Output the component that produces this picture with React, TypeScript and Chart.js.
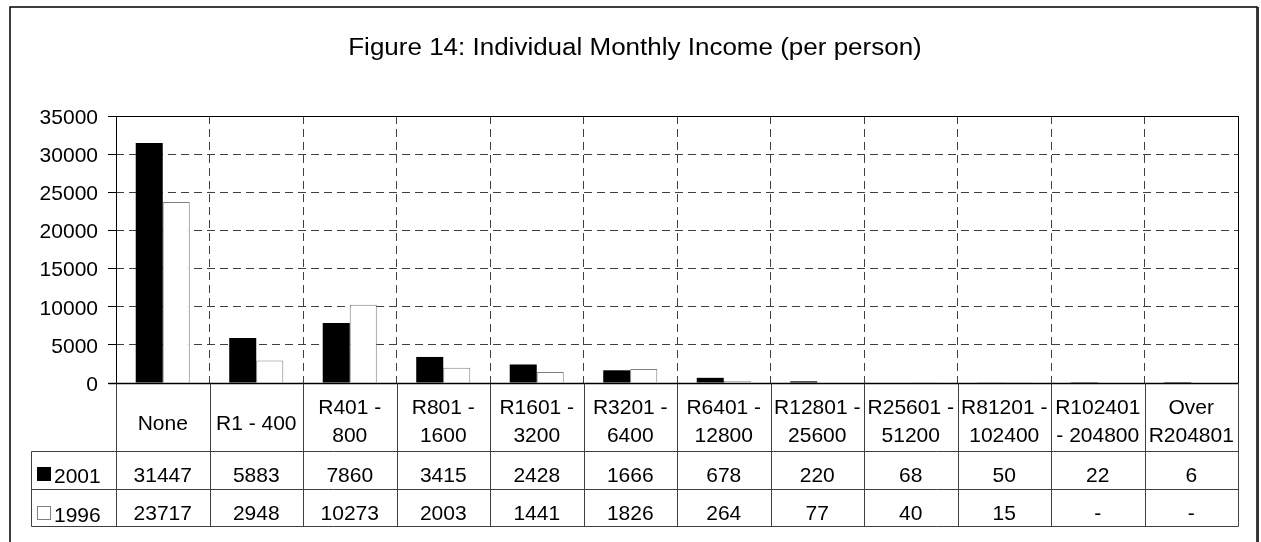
import { useEffect, useRef } from "react";
import { Chart, registerables } from "chart.js";

Chart.register(...registerables);

const TITLE = "Figure 14: Individual Monthly Income (per person)";

const categories: string[][] = [
  ["None"],
  ["R1 - 400"],
  ["R401 -", "800"],
  ["R801 -", "1600"],
  ["R1601 -", "3200"],
  ["R3201 -", "6400"],
  ["R6401 -", "12800"],
  ["R12801 -", "25600"],
  ["R25601 -", "51200"],
  ["R81201 -", "102400"],
  ["R102401", "- 204800"],
  ["Over", "R204801"],
];

const seriesNames = ["2001", "1996"];
const values2001: (number | null)[] = [31447, 5883, 7860, 3415, 2428, 1666, 678, 220, 68, 50, 22, 6];
const values1996: (number | null)[] = [23717, 2948, 10273, 2003, 1441, 1826, 264, 77, 40, 15, null, null];

const Y_MIN = 0;
const Y_MAX = 35000;
const Y_STEP = 5000;

const FONT = "'Liberation Sans', Arial, Helvetica, sans-serif";

export default function App() {
  const ref = useRef<HTMLCanvasElement | null>(null);

  useEffect(() => {
    if (!ref.current) return;

    const framePlugin = {
      id: "frameAndTable",
      beforeDraw(chart: any) {
        const ctx = chart.ctx as CanvasRenderingContext2D;
        ctx.save();
        ctx.fillStyle = "#ffffff";
        ctx.fillRect(0, 0, chart.width, chart.height);
        ctx.restore();
      },
      afterDraw(chart: any) {
        const ctx = chart.ctx as CanvasRenderingContext2D;
        const area = chart.chartArea;
        const xs = chart.scales.x;
        const left = Math.round(area.left) + 0.5;
        const right = Math.round(area.right) + 0.5;
        const top = Math.round(area.top) + 0.5;
        const bottom = Math.round(area.bottom) + 0.5;
        const n = categories.length;
        const cw = (area.right - area.left) / n;

        ctx.save();
        // outer frame
        ctx.strokeStyle = "#000";
        ctx.lineWidth = 1.5;
        ctx.strokeRect(10, 7, 1247, 600);
        ctx.strokeStyle = "#333";
        ctx.lineWidth = 2;
        ctx.beginPath();
        ctx.moveTo(1258, 7);
        ctx.lineTo(1258, 600);
        ctx.stroke();

        // title (glyphs slightly widened, as in the reference)
        ctx.save();
        ctx.fillStyle = "#000";
        ctx.font = `23px ${FONT}`;
        ctx.textAlign = "center";
        ctx.textBaseline = "alphabetic";
        ctx.translate(635, 54.5);
        ctx.scale(1.13, 1);
        ctx.fillText(TITLE, 0, 0);
        ctx.restore();

        // plot area border
        ctx.strokeStyle = "#000";
        ctx.lineWidth = 1;
        ctx.beginPath();
        ctx.moveTo(left, bottom);
        ctx.lineTo(left, top);
        ctx.lineTo(right, top);
        ctx.lineTo(right, bottom);
        ctx.stroke();
        ctx.lineWidth = 1.5;
        ctx.beginPath();
        ctx.moveTo(left - 8, bottom);
        ctx.lineTo(right, bottom);
        ctx.stroke();

        // table geometry
        const hdrBottom = bottom + 68;
        const row1Bottom = bottom + 106;
        const row2Bottom = bottom + 143;
        const tableLeft = 31.5;

        ctx.strokeStyle = "#404040";
        ctx.lineWidth = 1;
        ctx.beginPath();
        for (let i = 0; i <= n; i++) {
          const x = Math.round(area.left + i * cw) + 0.5;
          ctx.moveTo(x, bottom);
          ctx.lineTo(x, row2Bottom);
        }
        [hdrBottom, row1Bottom, row2Bottom].forEach((y) => {
          ctx.moveTo(tableLeft, y);
          ctx.lineTo(right, y);
        });
        ctx.moveTo(tableLeft, hdrBottom);
        ctx.lineTo(tableLeft, row2Bottom);
        ctx.stroke();

        // header labels
        ctx.fillStyle = "#000";
        ctx.font = `21px ${FONT}`;
        ctx.textAlign = "center";
        ctx.textBaseline = "alphabetic";
        categories.forEach((lines, i) => {
          const cx = xs.getPixelForValue(i);
          if (lines.length === 1) {
            ctx.fillText(lines[0], cx, bottom + 46);
          } else {
            ctx.fillText(lines[0], cx, bottom + 30.5);
            ctx.fillText(lines[1], cx, bottom + 58.5);
          }
        });

        // data rows
        const rows = [values2001, values1996];
        const rowBase = [bottom + 98.8, bottom + 136.7];
        const keyTop = [bottom + 83.5, bottom + 122.5];
        const labelBase = [bottom + 99.8, bottom + 138.3];
        rows.forEach((vals, r) => {
          if (r === 0) {
            ctx.fillStyle = "#000";
            ctx.fillRect(37, keyTop[r], 14, 14);
          } else {
            ctx.fillStyle = "#fff";
            ctx.fillRect(37, keyTop[r], 14, 14);
            ctx.strokeStyle = "#808080";
            ctx.lineWidth = 1;
            ctx.strokeRect(37.5, keyTop[r] + 0.5, 13, 13);
          }
          ctx.fillStyle = "#000";
          ctx.textAlign = "left";
          ctx.fillText(seriesNames[r], 54, labelBase[r]);
          ctx.textAlign = "center";
          vals.forEach((v, i) => {
            const cx = xs.getPixelForValue(i);
            ctx.fillText(v === null ? "-" : String(v), cx, rowBase[r]);
          });
        });
        ctx.restore();
      },
    };

    const chart = new Chart(ref.current, {
      type: "bar",
      data: {
        labels: categories.map((c) => c.join(" ")),
        datasets: [
          {
            label: seriesNames[0],
            data: values2001,
            backgroundColor: "#000000",
            borderColor: "#000000",
            borderWidth: 0,
            categoryPercentage: 0.578,
            barPercentage: 1,
          },
          {
            label: seriesNames[1],
            data: values1996,
            backgroundColor: "#ffffff",
            borderColor: "#808080",
            borderWidth: 1,
            categoryPercentage: 0.578,
            barPercentage: 1,
          },
        ],
      },
      options: {
        responsive: false,
        animation: false,
        layout: { padding: { left: 0, right: 23, top: 116, bottom: 159 } },
        plugins: {
          legend: { display: false },
          title: { display: false },
          tooltip: { enabled: false },
        },
        scales: {
          x: {
            offset: true,
            ticks: { display: false },
            grid: { offset: true, color: "#404040", lineWidth: 1, drawTicks: false },
            border: { display: false, dash: [8, 5] },
            afterFit: (s: any) => {
              s.height = 0;
            },
          },
          y: {
            min: Y_MIN,
            max: Y_MAX,
            ticks: {
              stepSize: Y_STEP,
              color: "#000",
              font: { family: FONT, size: 21 },
              padding: 10,
              labelOffset: 2,
              callback: (v: any) => String(v),
            },
            grid: { color: "#404040", lineWidth: 1, tickLength: 8, tickColor: "#000" },
            border: { display: false, dash: [8, 5] },
            afterFit: (s: any) => {
              s.width = 116;
            },
          },
        },
      },
      plugins: [framePlugin],
    } as any);

    return () => chart.destroy();
  }, []);

  return (
    <div style={{ position: "fixed", left: 0, top: 0, width: 1261, height: 542, background: "#fff" }}>
      <canvas ref={ref} width={1261} height={542} style={{ display: "block" }} />
    </div>
  );
}
